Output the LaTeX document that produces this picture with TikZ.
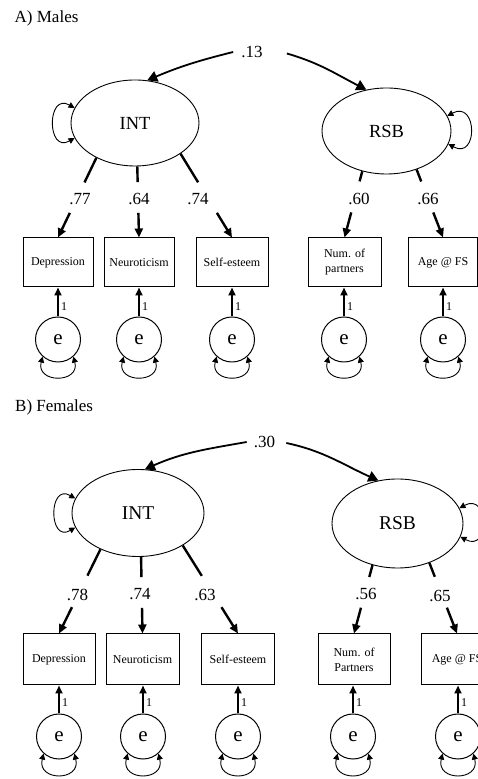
\documentclass[tikz,border=0pt]{standalone}
\usepackage{fontspec}
\setmainfont{Liberation Serif}
\usetikzlibrary{arrows.meta,calc,shapes.geometric}

\begin{document}
\begin{tikzpicture}[x=1pt,y=1pt,
  latent/.style={ellipse, draw, line width=0.9pt, inner sep=0pt},
  obs/.style={rectangle, draw, line width=1pt, align=center, inner sep=0pt,
    font=\fontsize{12}{15}\selectfont},
  err/.style={circle, draw, line width=1pt, minimum size=45pt, inner sep=0pt,
    font=\fontsize{21}{21}\selectfont},
  coef/.style={font=\fontsize{17}{17}\selectfont, inner sep=0pt},
  panel/.style={font=\fontsize{17}{17}\selectfont, anchor=base west, inner sep=0pt},
  corr/.style={line width=1.8pt, >={Triangle[length=10pt,width=11pt]}, ->},
  load/.style={line width=2.4pt},
  loadtip/.style={line width=2.4pt, >={Triangle[length=9pt,width=8pt]}, ->},
  fix/.style={line width=2.4pt, >={Triangle[length=8pt,width=7pt]}, ->},
  var/.style={line width=0.9pt, >={Triangle[length=6pt,width=6pt]}, <->},
  one/.style={font=\fontsize{12}{12}\selectfont, inner sep=0pt, anchor=west}
]
\useasboundingbox (0,0) rectangle (478,779);
\fill[white] (0,0) rectangle (478,779);
\clip (0,0) rectangle (478,779);

% ---------------- A) Males ----------------
\node[panel] (titleA) at (14.5,756) {A) Males};

\node[latent, minimum width=128pt, minimum height=86pt,
      font=\fontsize{18.5}{18.5}\selectfont] (INTA) at (135,656) {INT};
\node[latent, minimum width=129pt, minimum height=86pt,
      font=\fontsize{18.5}{18.5}\selectfont] (RSBA) at (386.5,648) {RSB};

\node[coef] (cA) at (252,726.5) {.13};
\draw[corr] ($(cA.west)+(-8,0.5)$) to[out=194,in=23] (INTA.74);
\draw[corr] ($(cA.east)+(24,-1)$) to[out=-16,in=153] (RSBA.116);

\draw[var] (INTA.166) .. controls +(-28,16) and +(-28,-16) .. (INTA.194);
\draw[var] (RSBA.14) .. controls +(30,16) and +(30,-16) .. (RSBA.-12);

% indicators
\node[obs, minimum width=70pt, minimum height=49pt] (DepA)  at (58,516.5)  {Depression};
\node[obs, minimum width=70pt, minimum height=49pt] (NeuA)  at (139,516.5) {Neuroticism};
\node[obs, minimum width=72pt, minimum height=49pt] (SelfA) at (232,516.5) {Self-esteem};
\node[obs, minimum width=73pt, minimum height=49pt] (NumA)  at (344.5,516.5) {Num. of\\partners};
\node[obs, minimum width=69pt, minimum height=49pt] (AgeA)  at (443,516.5) {Age @ FS};

% loadings
\node[coef] (l77) at (80,580)  {.77};
\node[coef] (l64) at (139,580) {.64};
\node[coef] (l74) at (198,580) {.74};
\node[coef] (l60) at (359,580) {.60};
\node[coef] (l66) at (428,580) {.66};

\draw[load] (INTA.222) -- ($(INTA.222)!0.309!(DepA.north)$);
\draw[loadtip] ($(INTA.222)!0.691!(DepA.north)$) -- (DepA.north);
\draw[load] (INTA.273) -- ($(INTA.273)!0.222!(NeuA.north)$);
\draw[loadtip] ($(INTA.273)!0.653!(NeuA.north)$) -- (NeuA.north);
\draw[load] (INTA.326) -- ($(INTA.326)!0.341!(SelfA.north)$);
\draw[loadtip] ($(INTA.326)!0.706!(SelfA.north)$) -- (SelfA.north);
\draw[load] (RSBA.239) -- ($(RSBA.239)!0.152!(NumA.north)$);
\draw[loadtip] ($(RSBA.239)!0.621!(NumA.north)$) -- (NumA.north);
\draw[load] (RSBA.308) -- ($(RSBA.308)!0.176!(AgeA.north)$);
\draw[loadtip] ($(RSBA.308)!0.632!(AgeA.north)$) -- (AgeA.north);

% residuals
\foreach \n/\x in {Dep/58, Neu/139, Self/232, Num/344, Age/443}{
  \node[err] (e\n A) at (\x,439.5) {e};
  \draw[fix] (e\n A.north) -- node[one, pos=0.35, xshift=2pt] {1} (e\n A.north |- \n A.south);
  \draw[var] (e\n A.228) .. controls +(-7,-27) and +(7,-27) .. (e\n A.312);
}

% ---------------- B) Females ----------------
\node[panel] (titleB) at (15,367.3) {B) Females};

\node[latent, minimum width=132pt, minimum height=87pt,
      font=\fontsize{19.5}{19.5}\selectfont] (INTB) at (138,266) {INT};
\node[latent, minimum width=131pt, minimum height=89pt,
      font=\fontsize{19.5}{19.5}\selectfont] (RSBB) at (397.5,255.5) {RSB};

\node[coef] (cB) at (264.5,337) {.30};
\draw[corr] ($(cB.west)+(-7,0)$) to[out=190,in=24] (INTB.81);
\draw[corr] ($(cB.east)+(11,-1)$) to[out=-12,in=156] (RSBB.114);

\draw[var] (INTB.167) .. controls +(-27,16) and +(-27,-16) .. (INTB.193);
\draw[var] (RSBB.14) .. controls +(30,16) and +(30,-16) .. (RSBB.-12);

% indicators
\node[obs, minimum width=72pt, minimum height=51pt] (DepB)  at (59,119.5)    {Depression};
\node[obs, minimum width=73pt, minimum height=51pt] (NeuB)  at (142.5,119.5) {Neuroticism};
\node[obs, minimum width=73pt, minimum height=51pt] (SelfB) at (238,119.5)   {Self-esteem};
\node[obs, minimum width=72pt, minimum height=51pt] (NumB)  at (354,119.5)   {Num. of\\Partners};
\node[obs, minimum width=72pt, minimum height=51pt] (AgeB)  at (457,119.5)   {Age @ FS};

% loadings
\node[coef] (l78) at (77.5,184.5) {.78};
\node[coef] (l74b) at (140,184.5) {.74};
\node[coef] (l63) at (205,184.5) {.63};
\node[coef] (l56) at (366,185.5) {.56};
\node[coef] (l65) at (440,183)   {.65};

\draw[load] (INTB.224) -- ($(INTB.224)!0.313!(DepB.north)$);
\draw[loadtip] ($(INTB.224)!0.687!(DepB.north)$) -- (DepB.north);
\draw[load] (INTB.274) -- ($(INTB.274)!0.265!(NeuB.north)$);
\draw[loadtip] ($(INTB.274)!0.665!(NeuB.north)$) -- (NeuB.north);
\draw[load] (INTB.324) -- ($(INTB.324)!0.345!(SelfB.north)$);
\draw[loadtip] ($(INTB.324)!0.701!(SelfB.north)$) -- (SelfB.north);
\draw[load] (RSBB.239) -- ($(RSBB.239)!0.174!(NumB.north)$);
\draw[loadtip] ($(RSBB.239)!0.623!(NumB.north)$) -- (NumB.north);
\draw[load] (RSBB.309) -- ($(RSBB.309)!0.197!(AgeB.north)$);
\draw[loadtip] ($(RSBB.309)!0.634!(AgeB.north)$) -- (AgeB.north);

% residuals
\foreach \n/\x in {Dep/59, Neu/143, Self/238, Num/353, Age/458}{
  \node[err] (e\n B) at (\x,42.5) {e};
  \draw[fix] (e\n B.north) -- node[one, pos=0.4, xshift=2pt] {1} (e\n B.north |- \n B.south);
  \draw[var] (e\n B.228) .. controls +(-7,-28) and +(7,-28) .. (e\n B.312);
}
\end{tikzpicture}
\end{document}
